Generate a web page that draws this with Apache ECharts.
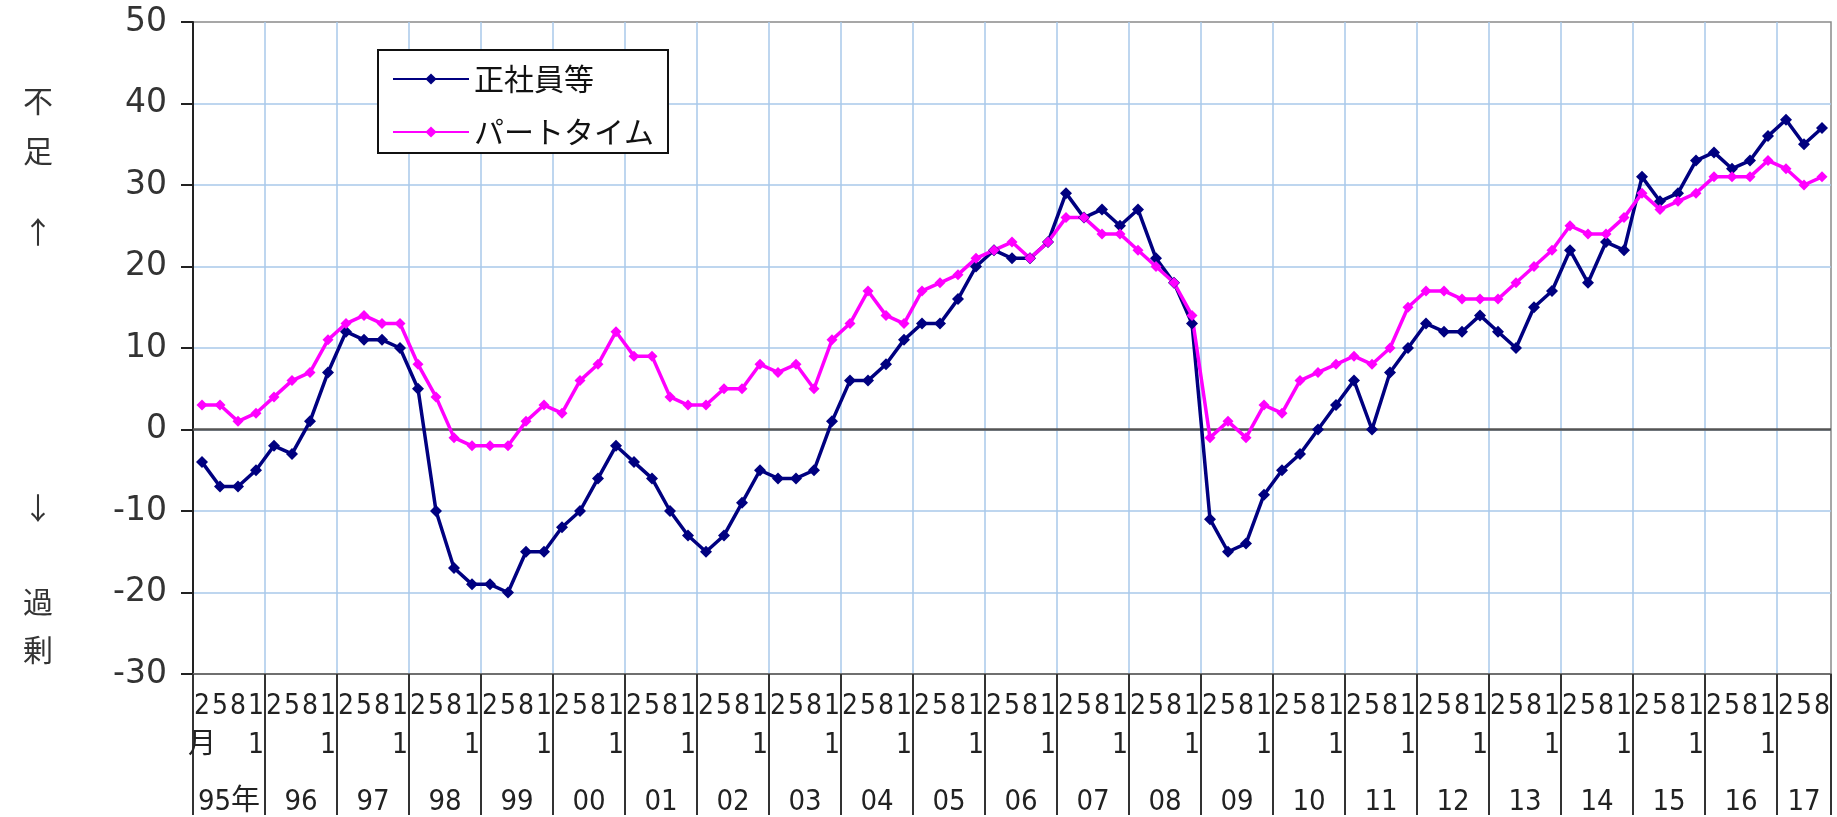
<!DOCTYPE html>
<html>
<head>
<meta charset="utf-8">
<title>正社員等・パートタイム 労働者過不足判断D.I.</title>
<script src="https://cdn.jsdelivr.net/npm/echarts@6/dist/echarts.min.js"></script>
<style>
  html, body { margin: 0; padding: 0; background: #ffffff; }
  #chart { width: 1837px; height: 817px; }
</style>
</head>
<body>
<div id="chart"></div>
<script>
// Survey years (labels along the bottom row) and survey months per year
const yearLabels = ['95年', '96', '97', '98', '99', '00', '01', '02', '03', '04', '05',
  '06', '07', '08', '09', '10', '11', '12', '13', '14', '15', '16', '17'];
const surveyMonths = [2, 5, 8, 11];
// The last year only has the first three surveys
const lastYearCount = 3;

// 正社員等 (regular employees) — quarterly D.I.
const regular = [
  -4, -7, -7, -5,      // 95
  -2, -3, 1, 7,        // 96
  12, 11, 11, 10,      // 97
  5, -10, -17, -19,    // 98
  -19, -20, -15, -15,  // 99
  -12, -10, -6, -2,    // 00
  -4, -6, -10, -13,    // 01
  -15, -13, -9, -5,    // 02
  -6, -6, -5, 1,       // 03
  6, 6, 8, 11,         // 04
  13, 13, 16, 20,      // 05
  22, 21, 21, 23,      // 06
  29, 26, 27, 25,      // 07
  27, 21, 18, 13,      // 08
  -11, -15, -14, -8,   // 09
  -5, -3, 0, 3,        // 10
  6, 0, 7, 10,         // 11
  13, 12, 12, 14,      // 12
  12, 10, 15, 17,      // 13
  22, 18, 23, 22,      // 14
  31, 28, 29, 33,      // 15
  34, 32, 33, 36,      // 16
  38, 35, 37           // 17
];

// パートタイム (part-time workers) — quarterly D.I.
const partTime = [
  3, 3, 1, 2,          // 95
  4, 6, 7, 11,         // 96
  13, 14, 13, 13,      // 97
  8, 4, -1, -2,        // 98
  -2, -2, 1, 3,        // 99
  2, 6, 8, 12,         // 00
  9, 9, 4, 3,          // 01
  3, 5, 5, 8,          // 02
  7, 8, 5, 11,         // 03
  13, 17, 14, 13,      // 04
  17, 18, 19, 21,      // 05
  22, 23, 21, 23,      // 06
  26, 26, 24, 24,      // 07
  22, 20, 18, 14,      // 08
  -1, 1, -1, 3,        // 09
  2, 6, 7, 8,          // 10
  9, 8, 10, 15,        // 11
  17, 17, 16, 16,      // 12
  16, 18, 20, 22,      // 13
  25, 24, 24, 26,      // 14
  29, 27, 28, 29,      // 15
  31, 31, 31, 33,      // 16
  32, 30, 31           // 17
];

// Value axis ticks
const yMin = -30, yMax = 50, yStep = 10;

// Build one category per survey (year index + month)
const categories = [];
const monthOf = [];
const yearOf = [];
yearLabels.forEach(function (y, yi) {
  const n = (yi === yearLabels.length - 1) ? lastYearCount : surveyMonths.length;
  for (let k = 0; k < n; k++) {
    categories.push(y + '/' + surveyMonths[k]);
    monthOf.push(surveyMonths[k]);
    yearOf.push(yi);
  }
});

const perYear = surveyMonths.length;
const isYearStart = function (i) { return i % perYear === 0; };

// Month text: two-digit months are stacked one digit per line
function monthText(i) {
  const m = String(monthOf[i]);
  let t = m.split('').join('\n');
  if (i === 0) t += '\n月';
  return t;
}

// Year label goes in the middle of its year's span
function yearLabelShown(i) {
  const yi = yearOf[i];
  const start = yi * perYear;
  const count = (yi === yearLabels.length - 1) ? lastYearCount : perYear;
  return i === start + Math.floor((count - 1) / 2);
}

const digitFont = "'Liberation Sans Narrow', 'DejaVu Sans Condensed', 'Noto Sans CJK JP', sans-serif";
const cjkFont = "'Noto Sans CJK JP', sans-serif";
const gridBlue = '#a9c9ea';

const chart = echarts.init(document.getElementById('chart'), null, { renderer: 'canvas' });

const sideLabels = [
  { t: '不', y: 101 }, { t: '足', y: 151 }, { t: '↑', y: 232 },
  { t: '↓', y: 508 }, { t: '過', y: 602 }, { t: '剰', y: 650 }
];

chart.setOption({
  animation: false,
  backgroundColor: '#ffffff',
  grid: {
    left: 193, right: 6, top: 22, bottom: 141,
    show: true, borderColor: '#8a8a8a', borderWidth: 1.5, backgroundColor: 'transparent'
  },
  legend: {
    orient: 'vertical',
    left: 378, top: 50,
    padding: [14, 14, 6, 14],
    itemGap: 23,
    itemWidth: 76, itemHeight: 14,
    borderColor: '#111', borderWidth: 2,
    backgroundColor: '#ffffff',
    textStyle: { fontSize: 30, fontFamily: cjkFont, color: '#111' },
    data: ['正社員等', 'パートタイム']
  },
  graphic: sideLabels.map(function (s) {
    return {
      type: 'text', x: 38, y: s.y,
      style: {
        text: s.t, font: '30px ' + cjkFont, fill: '#333',
        align: 'center', verticalAlign: 'middle'
      }
    };
  }),
  xAxis: [
    {
      type: 'category',
      data: categories,
      boundaryGap: true,
      position: 'bottom',
      axisLine: { show: true, onZero: false, lineStyle: { color: '#6f6f6f', width: 2 } },
      axisTick: {
        show: true, interval: function (i) { return isYearStart(i); },
        length: 141, lineStyle: { color: '#333', width: 2 }
      },
      splitLine: {
        show: true, interval: function (i) { return isYearStart(i); },
        showMinLine: false, showMaxLine: false,
        lineStyle: { color: gridBlue, width: 1.5 }
      },
      axisLabel: {
        interval: 0,
        formatter: function (v, i) { return monthText(i); },
        fontFamily: digitFont, fontSize: 28, color: '#222',
        lineHeight: 39, verticalAlign: 'top', margin: 13
      }
    },
    {
      type: 'category',
      data: categories,
      boundaryGap: true,
      position: 'bottom',
      axisLine: { show: false, onZero: false },
      axisTick: { show: false },
      splitLine: { show: false },
      axisLabel: {
        interval: function (i) { return yearLabelShown(i); },
        formatter: function (v, i) {
          const yi = yearOf[i];
          const full = yi !== yearLabels.length - 1;
          return (full ? '{f|' : '{l|') + yearLabels[yi] + '}';
        },
        verticalAlign: 'top', margin: 114,
        rich: {
          f: { fontFamily: digitFont, fontSize: 29, color: '#222', padding: [0, 0, 0, 18] },
          l: { fontFamily: digitFont, fontSize: 29, color: '#222' }
        }
      }
    }
  ],
  yAxis: {
    type: 'value',
    min: yMin, max: yMax, interval: yStep,
    axisLine: { show: true, lineStyle: { color: '#222', width: 2 } },
    axisTick: { show: true, length: 12, lineStyle: { color: '#222', width: 2 } },
    splitLine: {
      show: true, showMinLine: false, showMaxLine: false,
      lineStyle: { color: gridBlue, width: 1.5 }
    },
    axisLabel: { fontSize: 33, fontFamily: "'DejaVu Sans', sans-serif", color: '#333', margin: 26 }
  },
  series: [
    {
      name: '正社員等',
      type: 'line',
      data: regular,
      symbol: 'diamond', symbolSize: 12,
      lineStyle: { color: '#000080', width: 3.5 },
      itemStyle: { color: '#000080' },
      markLine: {
        silent: true, z: 1, symbol: 'none',
        label: { show: false },
        lineStyle: { color: '#555', width: 2.5, type: 'solid' },
        data: [{ yAxis: 0 }]
      }
    },
    {
      name: 'パートタイム',
      type: 'line',
      data: partTime,
      symbol: 'diamond', symbolSize: 11,
      lineStyle: { color: '#ff00ff', width: 3.5 },
      itemStyle: { color: '#ff00ff' }
    }
  ]
});
</script>
</body>
</html>
